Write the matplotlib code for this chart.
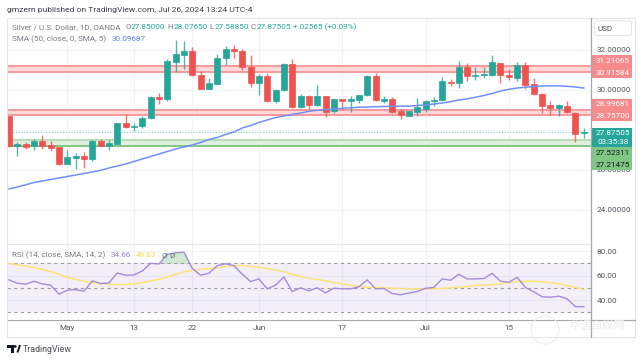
import matplotlib
matplotlib.use("Agg")
import matplotlib.pyplot as plt
from matplotlib.patches import Rectangle, FancyBboxPatch, Polygon, Circle
import numpy as np

W, H = 643, 361
FONT = ["Roboto", "DejaVu Sans"]
plt.rcParams["font.family"] = FONT

opens = [28.72,27.20,27.32,27.18,27.45,27.25,27.17,26.30,26.60,26.70,26.53,27.45,27.22,27.32,28.33,28.17,28.20,28.58,29.65,29.53,31.42,31.75,31.95,30.75,30.07,30.32,31.60,32.05,31.95,31.15,30.37,30.70,29.43,29.98,31.28,29.15,29.72,29.25,29.70,28.95,29.53,29.43,29.48,29.73,30.70,29.47,29.57,28.95,28.72,28.88,29.05,29.43,29.50,30.42,30.35,31.15,30.72,30.77,30.77,31.35,30.75,30.60,31.23,30.28,29.80,29.27,29.12,29.18,28.87,27.85]
highs = [28.72,27.39,27.42,27.55,27.75,27.47,27.17,27.00,26.83,26.90,27.52,27.55,27.50,28.35,28.78,28.37,28.72,29.72,29.87,31.55,32.50,32.45,32.13,30.95,30.60,31.80,32.22,32.25,32.05,31.75,30.80,30.87,30.03,31.35,31.53,29.80,29.77,30.23,29.72,29.57,29.55,29.70,29.75,30.77,30.83,29.70,29.67,29.05,28.98,29.60,29.50,29.67,30.65,30.57,31.45,31.35,31.15,31.13,31.75,31.37,31.07,31.40,31.40,30.58,29.83,29.45,29.28,29.45,28.92,28.0765]
lows = [27.15,26.70,27.05,27.00,27.03,26.97,26.25,26.28,26.05,26.08,26.45,27.20,27.00,27.30,28.08,27.97,28.08,28.55,29.32,29.43,30.92,31.03,30.72,30.05,30.03,30.30,31.23,31.60,31.00,30.17,29.77,29.40,29.35,29.95,29.12,29.10,29.03,29.18,28.63,28.85,28.98,28.90,29.37,29.70,29.47,29.35,28.83,28.55,28.70,28.72,28.92,29.22,29.47,30.22,30.12,30.43,30.52,30.58,30.72,30.37,30.50,30.47,30.03,29.73,28.87,28.73,28.68,28.85,27.42,27.5885]
closes = [27.20,27.32,27.15,27.45,27.20,27.12,26.30,26.67,26.70,26.55,27.47,27.22,27.35,28.33,28.17,28.22,28.58,29.67,29.55,31.45,31.78,31.95,30.73,30.07,30.33,31.62,32.05,31.93,31.17,30.37,30.70,29.43,30.00,31.28,29.15,29.72,29.25,29.70,28.92,29.53,29.43,29.53,29.73,30.70,29.50,29.57,28.88,28.73,28.97,29.13,29.43,29.50,30.47,30.35,31.17,30.72,30.76,30.80,31.42,30.73,30.63,31.23,30.25,29.78,29.18,29.08,29.23,28.88,27.82,27.87505]
sma50 = [25.05,25.15,25.26,25.375,25.45,25.525,25.6,25.675,25.75,25.825,25.9,25.985,26.1,26.2,26.3,26.425,26.55,26.675,26.8,26.925,27.05,27.15,27.25,27.375,27.525,27.625,27.775,27.9,28.1,28.225,28.375,28.5,28.625,28.7,28.775,28.85,28.935,28.985,29.025,29.05,29.085,29.11,29.135,29.15,29.165,29.175,29.185,29.19,29.19,29.225,29.25,29.3,29.35,29.415,29.5,29.56,29.635,29.725,29.825,29.95,30.035,30.1,30.135,30.175,30.2,30.21,30.21,30.185,30.15,30.09687]
rsi = [56.5,53.8,53,55.4,53.2,52.2,44.9,48.1,48.6,47.3,55.7,53.5,54.1,62.2,60.3,60.5,63.8,70,69.5,77.3,78.6,79.2,65.9,60.3,61.9,68.1,69.7,68.1,61.1,55.1,57.3,49.2,52.2,58.9,47,50,47.6,50,45.9,49.7,49.2,49.2,50.8,56.5,49.2,49.5,45.4,44.3,45.7,47,49.7,50.3,57.3,56.2,61.1,57.3,57.3,57.6,61.9,55.4,54.6,58.6,50.3,46.8,42.7,42.4,43.2,41.1,34.6,34.66]
rsi_sma = [70,68.9,67.8,66.8,65.1,63.2,61.1,58.6,57,55.4,54.3,53.5,53,52.7,52.8,53.2,54.3,55.7,57,58.9,61.1,63,64.3,65.1,65.7,66.2,67.6,68.1,68.1,67.6,66.8,65.9,64.6,63.2,61.1,59.2,57.8,57,55.7,54.3,53.2,52.2,51.1,50.5,50.3,50,49.7,49.5,49.2,49.2,49.2,49.2,49.5,50,50.5,51.1,51.9,52.2,52.7,53.2,54.1,55.1,55.4,55.4,54.9,54.3,53.2,51.9,50.3,48.63]
red_zones = [(30.91584, 31.21065), (28.75700, 28.99681)]
green_zone = (27.21475, 27.52311)
last_price = 27.87505
price_ticks = [24, 26, 28, 30, 32]
price_labels = ["24.00000", "26.00000", "", "30.00000", "32.00000"]
rsi_ticks = [40, 60, 80]
rsi_levels = [30, 50, 70]
date_pos = [7, 15, 22, 30, 40, 50, 60]
date_labels = ["May", "13", "22", "Jun", "17", "Jul", "15"]

GREEN, RED = "#26a69a", "#ef5350"
GRID = "#f0f3fa"
TXT = "#50535e"
GRAY = "#787b86"
FS = 5.9

def px_axes(x0, y0, x1, y1):
    return fig.add_axes([x0 / W, 1 - y1 / H, (x1 - x0) / W, (y1 - y0) / H])

fig = plt.figure(figsize=(W / 100, H / 100), dpi=100, facecolor="white")
L, R = 7, 590.7
ax = px_axes(L, 18, R, 244)
ar = px_axes(L, 244, R, 319.7)
ov = fig.add_axes([0, 0, 1, 1], zorder=5)
ov.set_xlim(0, W); ov.set_ylim(H, 0); ov.axis("off"); ov.patch.set_alpha(0)

xs = np.arange(len(opens))
xlim = (-0.24, 69.83)

# main pane
ax.set_xlim(*xlim); ax.set_ylim(22.3, 33.6)
ax.set_yticks(price_ticks)
ax.set_yticklabels(price_labels, fontsize=FS, color=TXT)
ax.yaxis.tick_right()
ax.set_xticks(date_pos); ax.tick_params(axis="x", length=0, labelbottom=False)
ax.tick_params(axis="y", length=0, pad=4.3)
ax.grid(True, color=GRID, lw=0.8); ax.set_axisbelow(True)
for s in ax.spines.values():
    s.set_visible(False)

for lo, hi in red_zones:
    ax.axhspan(lo, hi, color="#ffd8d8", lw=0, zorder=1)
    ax.axhline(lo, color="#f79a9c", lw=1.4, zorder=1.5)
    ax.axhline(hi, color="#f79a9c", lw=1.4, zorder=1.5)
ax.axhspan(*green_zone, color="#e0f0de", lw=0, zorder=1)
ax.axhline(green_zone[1], color="#bcdcb8", lw=1.6, zorder=1.5)
ax.axhline(green_zone[0], color="#6cbf70", lw=1.2, zorder=1.5)
ax.axhline(last_price, color=GREEN, lw=0.8, ls=(0, (1, 1.5)), alpha=0.55, zorder=1.5)

o, h, l, c = map(np.array, (opens, highs, lows, closes))
cols = [GREEN if b >= a else RED for a, b in zip(o, c)]
ax.vlines(xs, l, h, colors=cols, lw=1.0, alpha=0.8, zorder=2)
ax.bar(xs, np.abs(c - o), bottom=np.minimum(o, c), width=0.72, color=cols,
       edgecolor=cols, lw=0.5, zorder=3)
ax.plot(xs, sma50, color="#6f90fb", lw=1.1, zorder=4)

# RSI pane
ar.set_xlim(*xlim); ar.set_ylim(24, 85.8)
ar.axhspan(rsi_levels[0], rsi_levels[2], color="#7e57c2", alpha=0.09, lw=0)
ar.set_yticks(rsi_ticks)
ar.set_yticklabels([f"{t:.2f}" for t in rsi_ticks], fontsize=FS, color=TXT)
ar.yaxis.tick_right()
ar.set_xticks(date_pos)
ar.set_xticklabels(date_labels, fontsize=FS, color=TXT)
ar.tick_params(length=0)
ar.tick_params(axis="y", pad=4.3)
ar.tick_params(axis="x", pad=3.5)
ar.grid(True, color=GRID, lw=0.8); ar.set_axisbelow(True)
ar.spines["left"].set_visible(False)
ar.spines["right"].set_color("#a6a8b0"); ar.spines["bottom"].set_color("#a6a8b0")
ar.spines["top"].set_color("#e4e6ec")
for lev in rsi_levels:
    ar.axhline(lev, color="#9a9ca5", lw=0.8, ls=(0, (3, 3)))
ar_arr = np.array(rsi)
ar.fill_between(xs, ar_arr, 70, where=ar_arr > 70, interpolate=True,
                color="#66bb6a", alpha=0.3, lw=0)
ar.plot(xs, rsi_sma, color="#fbe27a", lw=1.1)
ar.plot(xs, rsi, color="#a48bdc", lw=1.0)

# frame
ov.add_patch(Rectangle((L - 0.5, 18), 635 - L + 0.5, 319, fill=False, ec="#e4e6ec", lw=0.8))
ov.plot([R, R], [18, 337], color="#a6a8b0", lw=0.9)
ov.plot([R, 635], [319.7, 319.7], color="#a6a8b0", lw=0.9)

# price-scale boxes
def box(y0, y1, color):
    ov.add_patch(Rectangle((R + 0.3, y0), 41, y1 - y0, fc=color, ec="none"))

def lab(y, s, color="white"):
    ov.text(612.7, y, s, fontsize=FS, color=color, ha="center", va="center")

box(55.3, 77.7, "#f78a8c"); lab(61, "31.21065"); lab(72.8, "30.91584")
box(98.7, 121, "#f78a8c"); lab(104, "28.99681"); lab(116, "28.75700")
box(127.7, 147.3, GREEN); lab(132.6, "27.87505"); lab(142.3, "03:35:38")
box(147.3, 170, "#81c784"); lab(153.3, "27.52311", "#131722"); lab(164.6, "27.21475", "#131722")
ov.add_patch(FancyBboxPatch((594.5, 21), 37, 14.5, boxstyle="round,pad=0,rounding_size=2",
                            fc="white", ec="#e4e6ec", lw=0.8))
ov.text(605, 28.6, "USD", fontsize=FS, color=TXT, ha="center", va="center")

# texts
ov.text(7, 9.8, "gmzern published on TradingView.com, Jul 26, 2024 13:24 UTC-4",
        fontsize=6.1, color="#3c3f4a", va="center")

def chain(x, y, parts, fs=5.9):
    rend = fig.canvas.get_renderer()
    for s, col, gap in parts:
        t = ov.text(x, y, s, fontsize=fs, color=col, va="center")
        e = t.get_window_extent(rend)
        x += e.width + gap

chain(12, 26.8, [("Silver / U.S. Dollar, 1D, OANDA", GRAY, 4.5),
                 ("O", GRAY, 0.3), ("27.85000", GREEN, 2), ("H", GRAY, 0.3), ("28.07650", GREEN, 2),
                 ("L", GRAY, 0.3), ("27.58850", GREEN, 2), ("C", GRAY, 0.3), ("27.87505", GREEN, 2),
                 ("+.02565 (+0.09%)", GREEN, 0)])
chain(12, 39, [("SMA (50, close, 0, SMA, 5)", GRAY, 5), ("30.09687", "#5b86f5", 0)])
chain(12, 255, [("RSI (14, close, SMA, 14, 2)", GRAY, 5), ("34.66", "#9d85d8", 5),
                ("48.63", "#f7dc57", 5), ("Ø", GRAY, 3), ("Ø", GRAY, 0)])

# logo
ov.add_patch(Polygon([(7, 345), (14, 345), (14, 352.5), (10.5, 352.5), (10.5, 348), (7, 348)],
                     fc="#131722", ec="none"))
ov.add_patch(Circle((15.2, 346.5), 1.4, fc="#131722", ec="none"))
ov.add_patch(Polygon([(16.5, 352.5), (19, 345), (21, 345), (18.5, 352.5)], fc="#131722", ec="none"))
ov.text(22.3, 349.2, "TradingView", fontsize=6.4, color="#4a4d57", va="center")

# watermark
ov.add_patch(Circle((545, 330), 14, fill=False, ec="#ececee", lw=0.8))
ov.text(597, 326, "华语自媒网", fontsize=8, color="#ececee", ha="center", va="center",
        family=["Noto Sans CJK SC", "DejaVu Sans"])

fig.savefig("out.png", dpi=100, facecolor="white")
